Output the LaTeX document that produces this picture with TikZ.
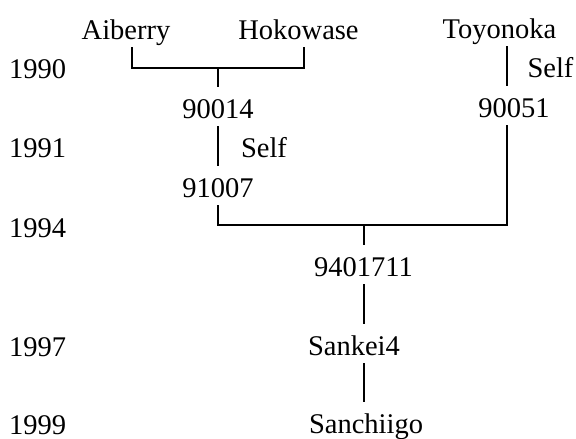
\documentclass[tikz,border=0pt]{standalone}
\usepackage{fontspec}
\setmainfont{Liberation Serif}
\begin{document}
\begin{tikzpicture}[x=1pt,y=-1pt,
  lbl/.style={anchor=base, inner xsep=0pt, inner ysep=2pt,
    text height=29.5pt, text depth=6.5pt,
    font=\fontsize{28.5}{34}\selectfont},
  yr/.style={lbl, anchor=base west},
  link/.style={line width=2pt, line cap=rect}]
\useasboundingbox (0,0) rectangle (576,439);

% year column
\node[yr] (y1990) at (9,78)  {1990};
\node[yr] (y1991) at (9,157) {1991};
\node[yr] (y1994) at (9,237) {1994};
\node[yr] (y1997) at (9,356) {1997};
\node[yr] (y1999) at (9,434) {1999};

% cultivars and lines
\node[lbl] (aib) at (126,39)   {Aiberry};
\node[lbl] (hok) at (298.5,39) {Hokowase};
\node[lbl] (toy) at (499.5,38) {Toyonoka};
\node[lbl] (l90014) at (218,118) {90014};
\node[lbl] (l90051) at (514,117) {90051};
\node[lbl] (l91007) at (218,197) {91007};
\node[lbl] (l9401711) at (363.5,276) {9401711};
\node[lbl] (sk4) at (354,355) {Sankei4};
\node[lbl] (sch) at (366,433) {Sanchiigo};

% selfing notes
\node[lbl] (selfA) at (264,157) {Self};
\node[lbl] (selfB) at (550.5,77) {Self};

% junctions of the crosses
\coordinate (m1) at (218,68);
\coordinate (m2) at (363.5,225);

% Aiberry x Hokowase
\draw[link] ([xshift=6pt]aib.south) |- (m1) -| ([xshift=5.5pt]hok.south);
\draw[link] (m1) -- (l90014.north);
\draw[link] (l90014.south) -- (l91007.north);

% Toyonoka selfed
\draw[link] ([xshift=7.5pt]toy.south) -- ([xshift=7.5pt]toy.south |- l90051.north);

% 91007 x 90051
\draw[link] (l91007.south) |- (m2) -| ([xshift=-7pt]l90051.south);
\draw[link] (m2) -- (l9401711.north);
\draw[link] (l9401711.south) -- (l9401711.south |- sk4.north);
\draw[link] (l9401711.south |- sk4.south) -- (l9401711.south |- sch.north);
\end{tikzpicture}
\end{document}
